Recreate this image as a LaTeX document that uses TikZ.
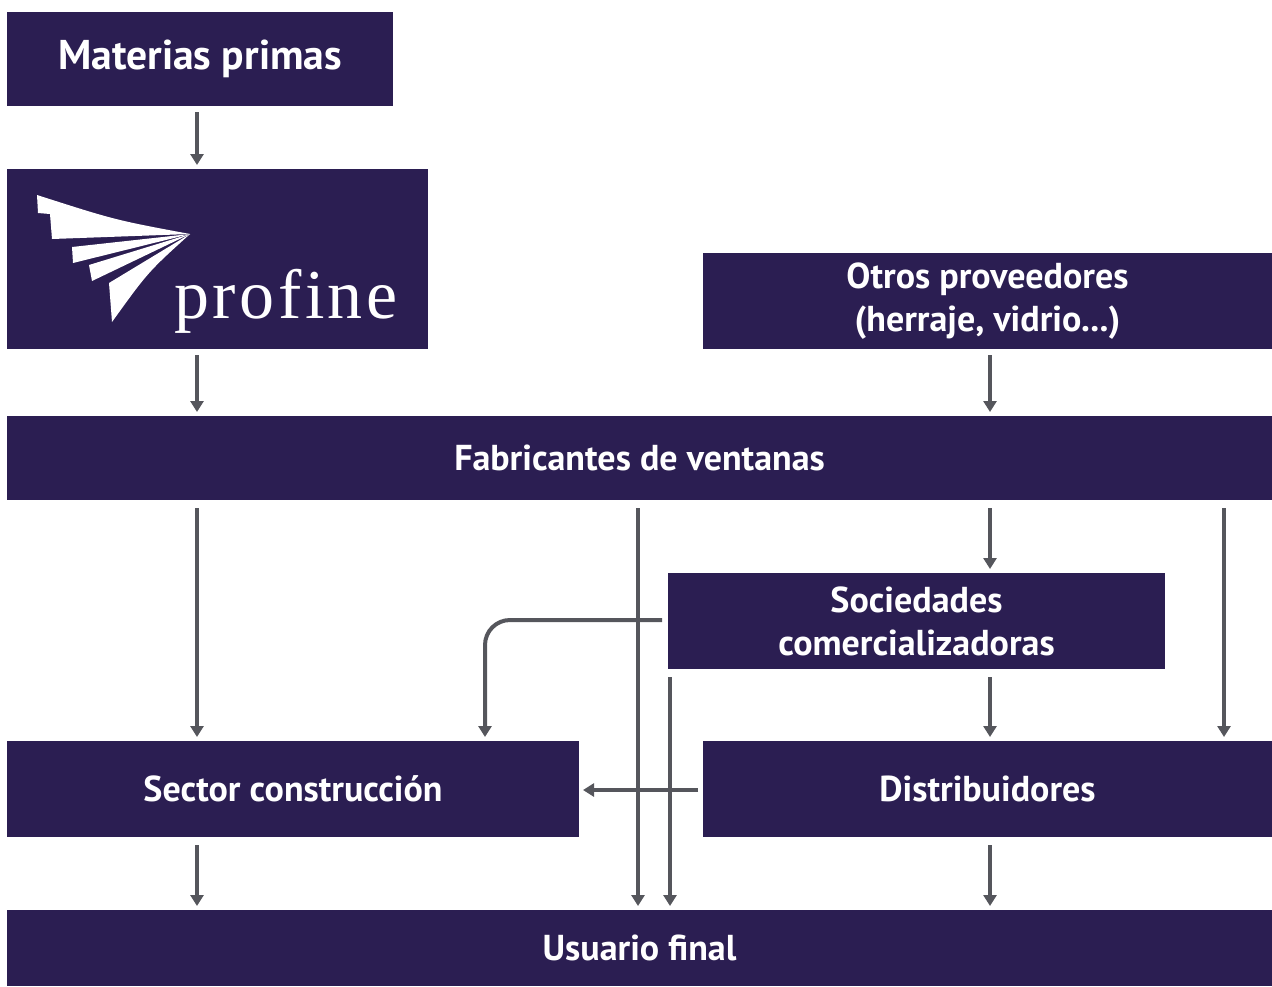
\documentclass[tikz,border=0pt]{standalone}
\usepackage{fontspec}
\setmainfont{PT Sans}
\newfontfamily\logofont{Liberation Serif}[LetterSpace=5]
\usetikzlibrary{arrows.meta}
\definecolor{boxc}{RGB}{43,30,82}
\definecolor{arrc}{RGB}{85,86,92}
\begin{document}
\begin{tikzpicture}[x=0.5pt,y=-0.5pt,
  box/.style={fill=boxc, draw=none, inner sep=0pt, outer sep=0pt, text=white,
    font=\fontsize{18}{21.5}\selectfont\bfseries, align=center},
  arr/.style={draw=arrc, line width=2pt, -{Triangle[width=6.5pt,length=5.5pt]}},
  wing/.style={fill=white, draw=none}]
\useasboundingbox (0,0) rectangle (1272,986);
% boxes
\node[box, minimum width=193pt, minimum height=47pt, font=\fontsize{20.8}{24}\selectfont\bfseries] (mat) at (200,59) {Materias primas};
\node[box, minimum width=210.5pt, minimum height=90pt] (prof) at (217.5,259) {};
\node[box, minimum width=284.5pt, minimum height=48pt] (otros) at (987.5,301) {Otros proveedores\\(herraje, vidrio...)};
\node[box, minimum width=632.5pt, minimum height=42pt] (fab) at (639.5,458) {Fabricantes de ventanas};
\node[box, minimum width=248.5pt, minimum height=48pt] (soc) at (916.5,621) {Sociedades\\comercializadoras};
\node[box, minimum width=286pt, minimum height=48pt] (sec) at (293,789) {Sector construcción};
\node[box, minimum width=284.5pt, minimum height=48pt] (dis) at (987.5,789) {Distribuidores};
\node[box, minimum width=632.5pt, minimum height=38pt] (usu) at (639.5,948) {Usuario final};
% profine logo
\fill[wing] (37,195) .. controls (115,220) .. (190,234) -- (52,239) -- (50,214) -- (38,213) -- cycle;
\fill[wing] (72,247) -- (190,234) -- (73,263) -- cycle;
\fill[wing] (89,265) -- (190,234) -- (92,281) -- cycle;
\fill[wing] (109,283) -- (190,234) .. controls (148,272) .. (112,322) -- cycle;
\node[anchor=base west, inner sep=0pt, text=white, font=\logofont\fontsize{35}{40}\selectfont] (logotext) at (174,318) {profine};
% arrows
\draw[arr] ([shift={(-3,6)}]mat.south) -- ([shift={(-20.5,-4)}]prof.north);
\draw[arr] ([shift={(-20.5,6)}]prof.south) -- ([shift={(-442.5,-4)}]fab.north);
\draw[arr] ([shift={(2.5,6)}]otros.south) -- ([shift={(350.5,-4)}]fab.north);
\draw[arr] ([shift={(-442.5,8)}]fab.south) -- ([shift={(-96,-4)}]sec.north);
\draw[arr] ([shift={(-1.5,8)}]fab.south) -- ([shift={(-1.5,-4)}]usu.north);
\draw[arr] ([shift={(350.5,8)}]fab.south) -- ([shift={(73.5,-4)}]soc.north);
\draw[arr] ([shift={(584.5,8)}]fab.south) -- ([shift={(236.5,-4)}]dis.north);
\draw[arr, rounded corners=12.5pt] ([shift={(-6,-1)}]soc.west) -| ([shift={(192,-4)}]sec.north);
\draw[arr] ([shift={(-246.5,8)}]soc.south) -- ([shift={(30.5,-4)}]usu.north);
\draw[arr] ([shift={(73.5,8)}]soc.south) -- ([shift={(2.5,-4)}]dis.north);
\draw[arr] ([shift={(-5,1)}]dis.west) -- ([shift={(4,1)}]sec.east);
\draw[arr] ([shift={(-96,8)}]sec.south) -- ([shift={(-442.5,-4)}]usu.north);
\draw[arr] ([shift={(2.5,8)}]dis.south) -- ([shift={(350.5,-4)}]usu.north);
\end{tikzpicture}
\end{document}
